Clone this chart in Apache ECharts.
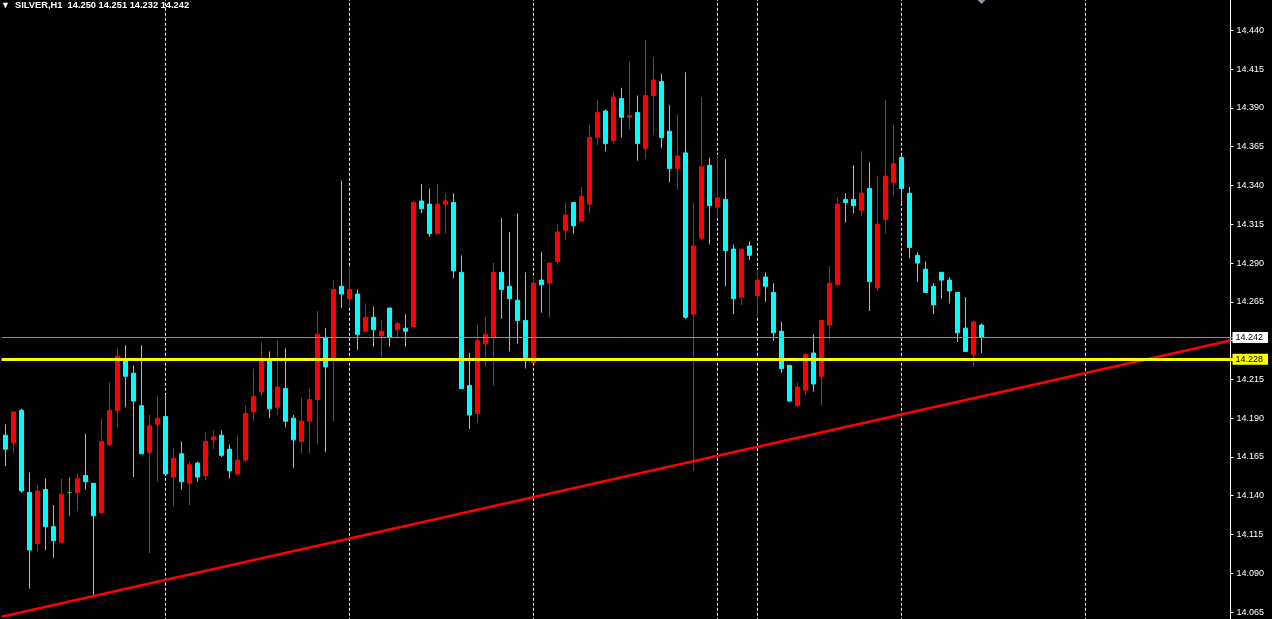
<!DOCTYPE html>
<html><head><meta charset="utf-8">
<script src="https://cdn.jsdelivr.net/npm/echarts@6/dist/echarts.min.js"></script>
<style>html,body{margin:0;padding:0;background:#000;}#c{width:1272px;height:619px;}</style>
</head><body><div id="c"></div>
<script>
const symbolName = 'SILVER,H1';
const opens = [14.179,14.174,14.195,14.142,14.109,14.144,14.120,14.110,14.142,14.142,
14.153,14.148,14.129,14.173,14.195,14.227,14.219,14.198,14.168,14.186,
14.191,14.152,14.167,14.148,14.161,14.153,14.176,14.179,14.170,14.154,
14.163,14.194,14.207,14.227,14.197,14.209,14.190,14.175,14.188,14.202,
14.242,14.228,14.275,14.267,14.270,14.246,14.255,14.243,14.261,14.247,
14.248,14.249,14.330,14.328,14.309,14.328,14.329,14.284,14.211,14.193,
14.238,14.242,14.284,14.275,14.266,14.253,14.226,14.279,14.277,14.291,
14.311,14.329,14.317,14.328,14.371,14.388,14.369,14.396,14.384,14.387,
14.364,14.398,14.407,14.375,14.351,14.361,14.257,14.306,14.353,14.326,
14.331,14.299,14.268,14.301,14.269,14.281,14.271,14.246,14.224,14.198,
14.208,14.232,14.217,14.250,14.276,14.331,14.331,14.324,14.338,14.274,
14.318,14.342,14.358,14.335,14.295,14.286,14.275,14.284,14.279,14.271,
14.248,14.231,14.250];
const closes = [14.170,14.194,14.143,14.105,14.143,14.120,14.111,14.141,14.142,14.151,
14.149,14.127,14.175,14.195,14.230,14.217,14.201,14.167,14.185,14.190,
14.154,14.164,14.149,14.160,14.152,14.175,14.178,14.166,14.156,14.163,
14.193,14.204,14.227,14.196,14.210,14.188,14.176,14.188,14.202,14.244,
14.223,14.273,14.270,14.273,14.244,14.255,14.247,14.246,14.242,14.251,
14.246,14.329,14.325,14.309,14.328,14.330,14.285,14.209,14.192,14.240,
14.244,14.284,14.273,14.267,14.253,14.229,14.277,14.276,14.290,14.310,
14.321,14.314,14.333,14.371,14.387,14.367,14.397,14.384,14.385,14.367,
14.398,14.408,14.371,14.351,14.359,14.255,14.301,14.352,14.327,14.332,
14.298,14.267,14.299,14.295,14.279,14.275,14.245,14.222,14.201,14.210,
14.231,14.212,14.253,14.277,14.328,14.329,14.327,14.335,14.278,14.315,
14.346,14.354,14.338,14.300,14.290,14.271,14.263,14.279,14.272,14.245,
14.233,14.252,14.242];
const lows = [14.159,14.167,14.142,14.080,14.104,14.105,14.100,14.110,14.127,14.130,
14.144,14.076,14.129,14.172,14.184,14.197,14.152,14.167,14.103,14.149,
14.154,14.133,14.144,14.134,14.149,14.150,14.170,14.165,14.151,14.154,
14.162,14.188,14.204,14.190,14.192,14.184,14.158,14.167,14.167,14.173,
14.168,14.188,14.261,14.262,14.234,14.246,14.236,14.228,14.236,14.242,
14.236,14.249,14.322,14.307,14.309,14.309,14.280,14.209,14.183,14.187,
14.223,14.211,14.254,14.233,14.238,14.222,14.226,14.258,14.255,14.289,
14.305,14.309,14.317,14.322,14.366,14.362,14.367,14.371,14.376,14.356,
14.357,14.373,14.364,14.342,14.337,14.254,14.156,14.305,14.302,14.320,
14.275,14.257,14.263,14.292,14.255,14.265,14.240,14.219,14.201,14.197,
14.205,14.207,14.198,14.240,14.276,14.316,14.322,14.320,14.259,14.272,
14.309,14.333,14.328,14.293,14.278,14.271,14.257,14.267,14.264,14.239,
14.233,14.223,14.232];
const highs = [14.186,14.194,14.196,14.155,14.147,14.151,14.134,14.151,14.152,14.154,
14.180,14.148,14.190,14.213,14.235,14.237,14.224,14.237,14.192,14.204,
14.205,14.171,14.175,14.162,14.162,14.181,14.182,14.182,14.173,14.179,
14.198,14.222,14.239,14.233,14.240,14.235,14.192,14.203,14.209,14.259,
14.248,14.279,14.343,14.288,14.273,14.264,14.262,14.253,14.261,14.252,
14.257,14.330,14.341,14.338,14.341,14.335,14.335,14.295,14.232,14.250,
14.255,14.290,14.319,14.310,14.322,14.284,14.281,14.297,14.290,14.315,
14.329,14.329,14.339,14.379,14.395,14.389,14.400,14.403,14.420,14.398,
14.434,14.423,14.412,14.392,14.386,14.413,14.329,14.397,14.358,14.360,
14.357,14.302,14.299,14.304,14.286,14.284,14.277,14.252,14.224,14.213,
14.232,14.244,14.253,14.288,14.332,14.335,14.353,14.362,14.355,14.346,
14.395,14.379,14.360,14.339,14.297,14.291,14.277,14.284,14.281,14.271,
14.268,14.253,14.251];

const totalSlots = 154;                     // bar slots incl. empty right margin
const categories = Array.from({length: totalSlots}, (_, i) => 'H' + i);
const separatorIdx = [20, 43, 66, 89, 94, 112, 135];
const levelPrice = 14.228;                  // yellow horizontal level
const bidPrice = closes[closes.length - 1]; // bid line
const trendLine = [[-0.5, 14.062], [153.1, 14.240]];
const objectMarker = [122, 14.4603];
const yMin = 14.040, yMax = 14.465, yStep = 0.025;  // ticks fall on 14.065 ... 14.440

const FONT = '"Liberation Sans", Arial, sans-serif';
const candles = opens.map((o, i) => [o, closes[i], lows[i], highs[i]]);
const n = opens.length - 1;
const titleText = symbolName + '  ' + [opens[n], highs[n], lows[n], closes[n]].map(v => v.toFixed(3)).join(' ');

const chart = echarts.init(document.getElementById('c'), null, {renderer: 'canvas'});
chart.setOption({
  animation: false,
  backgroundColor: '#000000',
  title: {
    left: 1, top: 1, padding: 0,
    text: '{t|▼}{s|  ' + titleText + '}',
    textStyle: {
      rich: {
        t: {fontSize: 9, color: '#ffffff', fontFamily: FONT},
        s: {fontSize: 9.3, color: '#ffffff', fontFamily: FONT}
      }
    }
  },
  grid: {left: 1.5, width: 1232, top: -8.4, height: 659.2, containLabel: false, outerBoundsMode: 'none'},
  xAxis: [
    {type: 'category', data: categories, show: false, boundaryGap: true},
    {type: 'value', min: -0.5, max: totalSlots - 0.5, show: false}
  ],
  yAxis: {
    type: 'value', position: 'right', offset: -3,
    min: yMin, max: yMax, interval: yStep,
    axisLine: {show: true, onZero: false, lineStyle: {color: '#ffffff', width: 1}},
    axisTick: {show: true, length: 3, lineStyle: {color: '#ffffff'}},
    axisLabel: {
      color: '#ffffff', fontSize: 9, fontFamily: FONT, margin: 6,
      showMinLabel: true, showMaxLabel: true,
      formatter: v => ([levelPrice, bidPrice].some(l => Math.abs(l - v) < 0.004) ? '' : v.toFixed(3))
    },
    splitLine: {show: false}
  },
  series: [
    {
      type: 'candlestick', data: candles, barWidth: 4, z: 2, silent: true,
      itemStyle: {
        color: '#ff0000', color0: '#00ffff',
        borderColor: '#ff0000', borderColor0: '#00ffff',
        borderColorDoji: '#32cd32', borderWidth: 1
      },
      markLine: {
        silent: true, symbol: 'none', z: 1, animation: false,
        label: {show: false},
        lineStyle: {color: '#ffffff', width: 1, type: [3, 2]},
        data: separatorIdx.map(i => ({xAxis: i}))
      },
      markPoint: {
        silent: true, symbol: 'diamond', symbolSize: [10, 10], animation: false,
        itemStyle: {color: '#8c94a6'}, label: {show: false},
        data: [{coord: objectMarker}]
      }
    },
    {
      type: 'line', xAxisIndex: 1, yAxisIndex: 0, data: trendLine, symbol: 'none',
      z: 4, silent: true,
      lineStyle: {color: '#ff0000', width: 2.5},
      markLine: {
        silent: true, symbol: 'none', z: 5, animation: false, precision: 3,
        data: [
          {yAxis: bidPrice, lineStyle: {color: '#8a9099', width: 1, type: 'solid'},
           label: {show: true, position: 'end', distance: -1, formatter: () => bidPrice.toFixed(3),
                   color: '#000000', backgroundColor: '#ffffff', fontSize: 9, fontFamily: FONT,
                   padding: [1, 5, 0, 3], lineHeight: 10}},
          {yAxis: levelPrice, lineStyle: {color: '#ffff00', width: 3, type: 'solid'},
           label: {show: true, position: 'end', distance: -1, formatter: () => levelPrice.toFixed(3),
                   color: '#000000', backgroundColor: '#ffff00', fontSize: 9, fontFamily: FONT,
                   padding: [1, 5, 0, 3], lineHeight: 10}}
        ]
      }
    }
  ]
});
</script></body></html>
